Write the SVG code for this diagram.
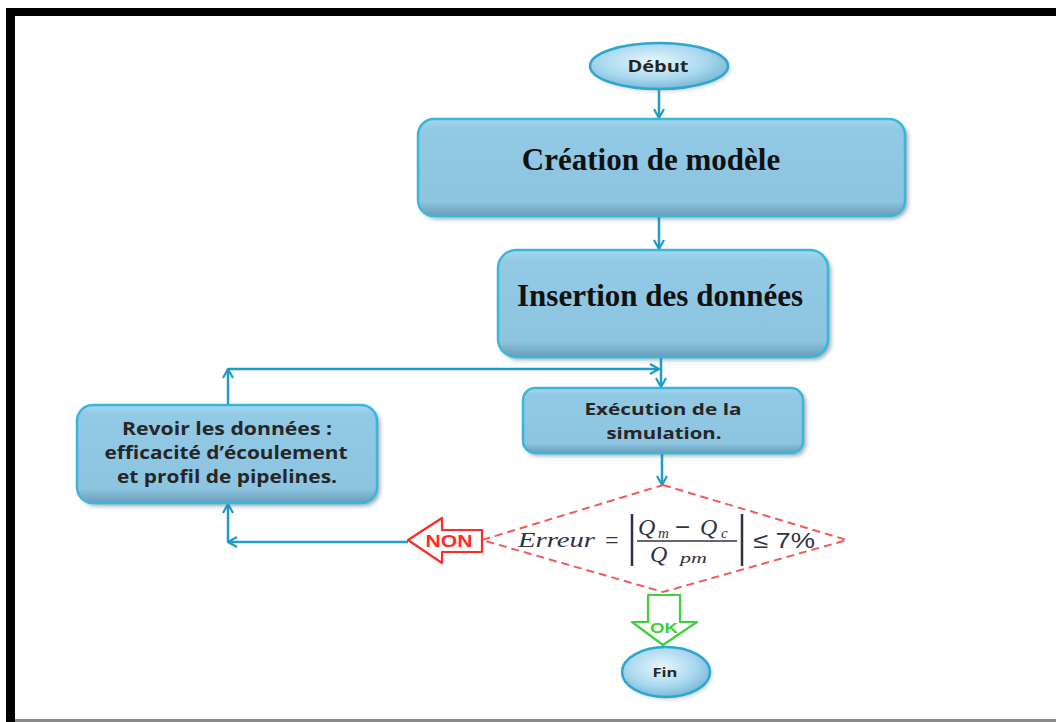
<svg xmlns="http://www.w3.org/2000/svg" width="1056" height="722" viewBox="0 0 1056 722">
<style>
.box{fill:url(#boxg);stroke:#3ab6da;stroke-width:2.5}
.shadow{fill:#4d7388;opacity:0.6}
.ell{fill:url(#ellg);stroke:#2ea6d0;stroke-width:2.5}
.conn{stroke:#1f9cc6;stroke-width:2.5;fill:none}
.big{font-family:"Liberation Serif",serif;font-weight:bold;font-size:31px;fill:#111}
.lbl{font-family:"Open Sans",Lato,sans-serif;font-weight:bold;fill:#262626}
.math{font-family:"Liberation Serif",serif;font-style:italic;fill:#2f3340}
</style>
<defs>
<linearGradient id="boxg" x1="0" y1="0" x2="0" y2="1">
<stop offset="0" stop-color="#a6d8ee"/>
<stop offset="0.1" stop-color="#92c9e4"/>
<stop offset="0.85" stop-color="#8dc5e1"/>
<stop offset="1" stop-color="#6b9cb6"/>
</linearGradient>
<radialGradient id="ellg" cx="0.45" cy="0.4" r="0.65">
<stop offset="0" stop-color="#e6f6fc"/>
<stop offset="0.6" stop-color="#a9d8ee"/>
<stop offset="1" stop-color="#6fb2d3"/>
</radialGradient>
<filter id="blur" x="-10%" y="-10%" width="120%" height="130%"><feGaussianBlur stdDeviation="2"/></filter>
<marker id="arr" viewBox="0 0 12 12" refX="11" refY="6" markerWidth="12" markerHeight="12" markerUnits="userSpaceOnUse" orient="auto">
<path d="M2,1 L11,6 L2,11" fill="none" stroke="#1f9cc6" stroke-width="2.2"/>
</marker>
</defs>
<rect width="1056" height="722" fill="#fff"/>
<g id="frame">
<rect x="6" y="8" width="1050" height="8" fill="#000"/>
<rect x="6" y="8" width="9" height="714" fill="#000"/>
<rect x="15" y="719" width="1041" height="3" fill="#8a8a8a"/>
</g>
<g id="connectors">
<line class="conn" x1="659" y1="90" x2="659" y2="118" marker-end="url(#arr)"/>
<line class="conn" x1="659" y1="217" x2="659" y2="249" marker-end="url(#arr)"/>
<line class="conn" x1="661" y1="358" x2="661" y2="387" marker-end="url(#arr)"/>
<line class="conn" x1="228" y1="369" x2="659" y2="369" marker-end="url(#arr)"/>
<line class="conn" x1="228" y1="405" x2="228" y2="369" marker-end="url(#arr)"/>
<line class="conn" x1="662" y1="454" x2="662" y2="485" marker-end="url(#arr)"/>
<line class="conn" x1="408" y1="542" x2="228" y2="542" marker-end="url(#arr)"/>
<line class="conn" x1="228" y1="542" x2="228" y2="504" marker-end="url(#arr)"/>
</g>
<g id="debut">
<ellipse cx="661" cy="68" rx="69" ry="23" fill="#5a7f93" opacity="0.4" filter="url(#blur)"/>
<ellipse class="ell" cx="659" cy="66" rx="69" ry="23"/>
<text class="lbl" x="658" y="72" font-size="16" text-anchor="middle" textLength="61" lengthAdjust="spacingAndGlyphs">Début</text>
</g>
<g id="creation">
<rect class="shadow" x="421" y="122" width="487" height="97" rx="16" filter="url(#blur)"/>
<rect class="box" x="418" y="119" width="487" height="97" rx="16"/>
<text class="big" x="651" y="170" text-anchor="middle">Création de modèle</text>
</g>
<g id="insertion">
<rect class="shadow" x="501" y="253" width="330" height="107" rx="18" filter="url(#blur)"/>
<rect class="box" x="498" y="250" width="330" height="107" rx="18"/>
<text class="big" x="660" y="306" text-anchor="middle">Insertion des données</text>
</g>
<g id="execution">
<rect class="shadow" x="526" y="391" width="280" height="65" rx="12" filter="url(#blur)"/>
<rect class="box" x="523" y="388" width="280" height="65" rx="12"/>
<text class="lbl" x="663" y="415" font-size="16.5" text-anchor="middle" textLength="157" lengthAdjust="spacingAndGlyphs">Exécution de la</text>
<text class="lbl" x="664" y="439" font-size="16.5" text-anchor="middle" textLength="115" lengthAdjust="spacingAndGlyphs">simulation.</text>
</g>
<g id="revoir">
<rect class="shadow" x="80" y="408" width="300" height="98" rx="16" filter="url(#blur)"/>
<rect class="box" x="77" y="405" width="300" height="98" rx="16"/>
<text class="lbl" x="227" y="435" font-size="17.5" text-anchor="middle" textLength="210" lengthAdjust="spacingAndGlyphs">Revoir les données :</text>
<text class="lbl" x="226" y="459" font-size="17.5" text-anchor="middle" textLength="243" lengthAdjust="spacingAndGlyphs">efficacité d’écoulement</text>
<text class="lbl" x="227" y="483" font-size="17.5" text-anchor="middle" textLength="220" lengthAdjust="spacingAndGlyphs">et profil de pipelines.</text>
</g>
<g id="decision">
<polygon points="663,485 847,540 663,592 482,540" fill="#fff" stroke="#f25a5a" stroke-width="2" stroke-dasharray="8,5"/>
<text class="math" x="518" y="547" font-size="22" textLength="77" lengthAdjust="spacingAndGlyphs">Erreur</text>
<text x="605" y="548" font-size="24" font-family="Liberation Serif,serif" fill="#2f3340">=</text>
<line x1="632" y1="514" x2="632" y2="566" stroke="#2f3340" stroke-width="2.5"/>
<line x1="742" y1="514" x2="742" y2="566" stroke="#2f3340" stroke-width="2.5"/>
<line x1="637" y1="541" x2="737" y2="541" stroke="#2f3340" stroke-width="1.5"/>
<text class="math" x="638" y="535" font-size="24">Q</text>
<text class="math" x="658" y="538" font-size="15">m</text>
<text x="675" y="536" font-size="26" font-family="Liberation Sans,sans-serif" fill="#2f3340">−</text>
<text class="math" x="700" y="535" font-size="24">Q</text>
<text class="math" x="721" y="538" font-size="15">c</text>
<text class="math" x="650" y="562" font-size="24">Q</text>
<text class="math" x="680" y="563" font-size="15" textLength="27" lengthAdjust="spacingAndGlyphs">pm</text>
<text x="753" y="548" font-size="22" font-family="Liberation Sans,sans-serif" fill="#2f3340" textLength="62" lengthAdjust="spacingAndGlyphs">≤ 7%</text>
</g>
<g id="non">
<polygon points="408,540 442,518 442,530 482,530 482,552 442,552 442,563" fill="#fff" stroke="#ff2a2a" stroke-width="2.2" stroke-linejoin="round"/>
<text x="449" y="547" font-family="Liberation Sans,sans-serif" font-weight="bold" font-size="17" fill="#ff2a2a" text-anchor="middle" textLength="47" lengthAdjust="spacingAndGlyphs">NON</text>
</g>
<g id="ok">
<polygon points="648,595 680,595 680,622 697,622 663,645 632,622 648,622" fill="#fff" stroke="#3cd23c" stroke-width="2.2" stroke-linejoin="round"/>
<text x="664" y="633" font-family="Liberation Sans,sans-serif" font-weight="bold" font-size="14" fill="#3cd23c" text-anchor="middle" textLength="28" lengthAdjust="spacingAndGlyphs">OK</text>
</g>
<g id="fin">
<ellipse cx="668" cy="674" rx="44" ry="25" fill="#5a7f93" opacity="0.4" filter="url(#blur)"/>
<ellipse class="ell" cx="666" cy="672" rx="44" ry="25"/>
<text class="lbl" x="665" y="677" font-size="13" text-anchor="middle" textLength="25" lengthAdjust="spacingAndGlyphs">Fin</text>
</g>
</svg>
